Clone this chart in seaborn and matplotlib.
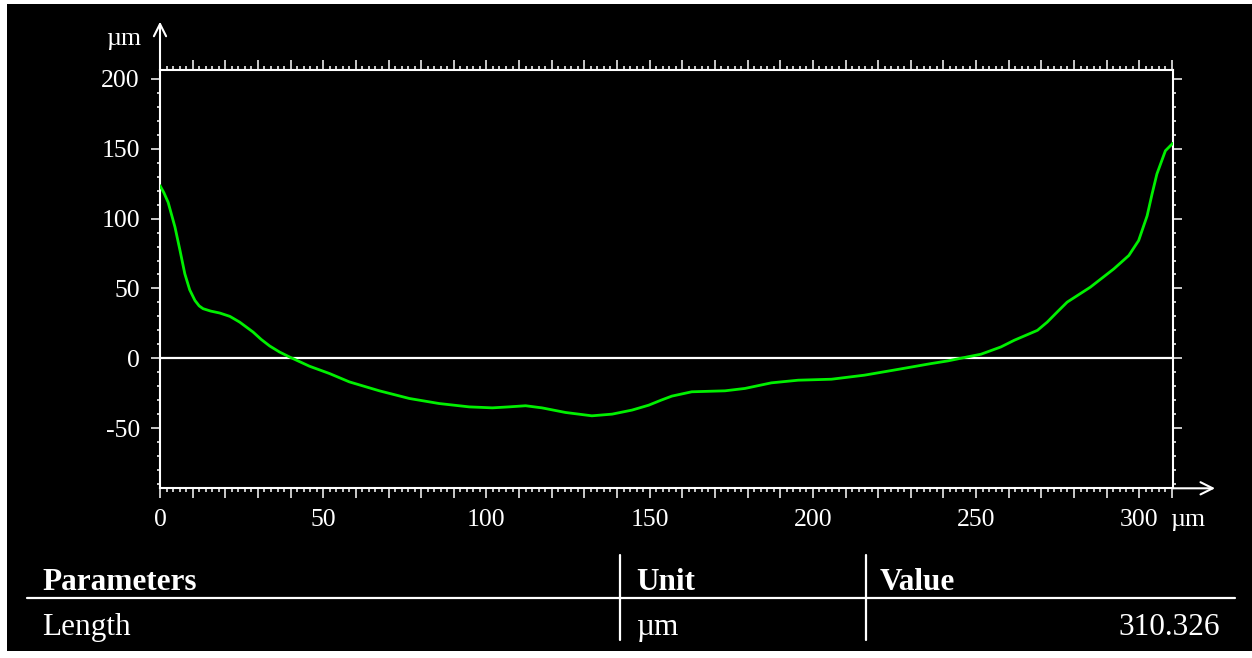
import matplotlib
matplotlib.use("Agg")
import numpy as np
import pandas as pd
import seaborn as sns
import matplotlib.pyplot as plt
from matplotlib.ticker import MultipleLocator, FixedLocator, FuncFormatter
from matplotlib.patches import Rectangle
from matplotlib.lines import Line2D

# ---------------- data ----------------
position_um = [0, 1.2, 2.5, 4.6, 6.1, 7.6, 9.1, 10.7, 12.0, 13.2, 15.5, 18.3, 21.4,
               24.4, 28.5, 31.0, 33.6, 36.6, 39.7, 45.8, 51.9, 58, 67.2, 76.4,
               85.5, 94.7, 101.8, 106.9, 112, 117, 124.2, 132.3, 138.5, 144.6,
               149.7, 153.5, 156.8, 162.9, 173.1, 179.2, 187.3, 195.5, 205.7,
               215.8, 226, 236.2, 241.3, 247.4, 251.5, 257.6, 261.7, 268.8,
               271.8, 274.8, 277.9, 285, 292.2, 296.8, 299.8, 302.4, 303.9,
               305.4, 308, 310.3]
height_um = [123.6, 118.5, 111.6, 93.8, 77.5, 60.5, 49.0, 41.4, 37.5, 35.5, 33.8,
             32.4, 30, 25.9, 18.8, 13.5, 8.8, 4.5, 0.9, -5.7, -10.9, -16.9, -23.3,
             -28.8, -32.4, -34.8, -35.5, -34.8, -34, -35.5, -38.8, -41.2, -40,
             -37.1, -33.6, -30.0, -27.1, -24, -23.3, -21.6, -17.6, -15.7, -15,
             -12.1, -8, -3.8, -1.9, 1, 2.9, 8.1, 12.9, 20, 25.9, 33.0, 40.2,
             50.9, 64, 73.6, 84.3, 102, 117.5, 132, 148.6, 154]
x_tick_values = [0, 50, 100, 150, 200, 250, 300]
x_tick_labels = ["0", "50", "100", "150", "200", "250", "300"]
x_unit = "µm"
y_tick_values = [-50, 0, 50, 100, 150, 200]
y_tick_labels = ["-50", "0", "50", "100", "150", "200"]
y_unit = "µm"
table_header = ["Parameters", "Unit", "Value"]
table_row = ["Length", "µm", "310.326"]
length_um = 310.326

# ---------------- style ----------------
sns.set_theme(style="dark")
plt.rcParams['font.family'] = ['Liberation Serif', 'DejaVu Serif']
plt.rcParams['axes.unicode_minus'] = False

W, H = 1252, 658
fig = plt.figure(figsize=(W / 100, H / 100), dpi=100, facecolor='white')
fig.patches.append(Rectangle((6.7 / W, 7.3 / H), 1 - 6.7 / W, (650.7 - 4) / H,
                             transform=fig.transFigure, facecolor='black',
                             edgecolor='none', zorder=-5))

ax = fig.add_axes([160 / W, (H - 488.3) / H, 1013 / W, 418.3 / H])
ax.set_facecolor('black')

df = pd.DataFrame({"x": position_um, "y": height_um})
ax.axhline(0, color='white', lw=1.6, zorder=2)
sns.lineplot(data=df, x="x", y="y", color='#00f000', lw=2.0, ax=ax, zorder=3,
             solid_joinstyle='round', solid_capstyle='round')

ax.set_xlim(0, length_um)
ax.set_ylim(-93.1, 206.4)
ax.set_xlabel("")
ax.set_ylabel("")

for s in ax.spines.values():
    s.set_visible(True)
    s.set_color('white')
    s.set_linewidth(1.5)

label_map = dict(zip(x_tick_values, x_tick_labels))
ax.xaxis.set_major_locator(MultipleLocator(10))
ax.xaxis.set_minor_locator(MultipleLocator(2))
ax.xaxis.set_major_formatter(FuncFormatter(
    lambda v, p: label_map.get(int(round(v)), "") if abs(v - round(v)) < 1e-6 else ""))
ax.yaxis.set_major_locator(FixedLocator(y_tick_values))
ax.yaxis.set_minor_locator(MultipleLocator(10))
ax.set_yticklabels(y_tick_labels)

x_major_len, x_pad = 7, 8
ax.tick_params(which='both', direction='out', color='white', labelcolor='white',
               top=True, right=True, bottom=True, left=True,
               labeltop=False, labelright=False, labelsize=18.5)
ax.tick_params(axis='x', which='major', length=x_major_len, width=1.1, pad=x_pad)
ax.tick_params(axis='x', which='minor', length=3, width=1.1)
ax.tick_params(axis='y', which='major', length=6.5, width=1.1, pad=8)
ax.tick_params(axis='y', which='minor', length=2.5, width=1.1)
ax.grid(False)

# unit after the last x tick label
ax.annotate(x_unit, xy=(x_tick_values[-1], 0), xycoords=('data', 'axes fraction'),
            xytext=(22.5, -(x_major_len + x_pad)), textcoords='offset points',
            ha='left', va='top', color='white', fontsize=18.5, annotation_clip=False)

# axis arrows
arrow_kw = dict(arrowstyle='->', color='white', lw=1.5, mutation_scale=22,
                shrinkA=0, shrinkB=0)
ax.annotate('', xy=(0, 1.1155), xytext=(0, 1.0), xycoords='axes fraction',
            arrowprops=arrow_kw, annotation_clip=False)
ax.annotate('', xy=(1.0415, 0), xytext=(1.0, 0), xycoords='axes fraction',
            arrowprops=arrow_kw, annotation_clip=False)
ax.text(-0.0355, 1.074, y_unit, transform=ax.transAxes, ha='center', va='center',
        color='white', fontsize=18.5)

# ---------------- table ----------------
def fy(py):
    return 1 - py / H

fig.add_artist(Line2D([27 / W, 1235 / W], [fy(598)] * 2, color='white', lw=1.6))
for xs in (620, 866):
    fig.add_artist(Line2D([xs / W] * 2, [fy(555), fy(640)], color='white', lw=1.6))

fs_tab = 22.5
hx = [42, 636, 880]
for x0, t in zip(hx, table_header):
    fig.text(x0 / W, fy(590), t, color='white', fontsize=fs_tab, fontweight='bold',
             ha='left', va='baseline')
fig.text(42 / W, fy(635), table_row[0], color='white', fontsize=fs_tab, ha='left', va='baseline')
fig.text(636 / W, fy(635), table_row[1], color='white', fontsize=fs_tab, ha='left', va='baseline')
fig.text(1220 / W, fy(635), table_row[2], color='white', fontsize=fs_tab, ha='right', va='baseline')

fig.savefig("out.png", dpi=100, facecolor=fig.get_facecolor())
